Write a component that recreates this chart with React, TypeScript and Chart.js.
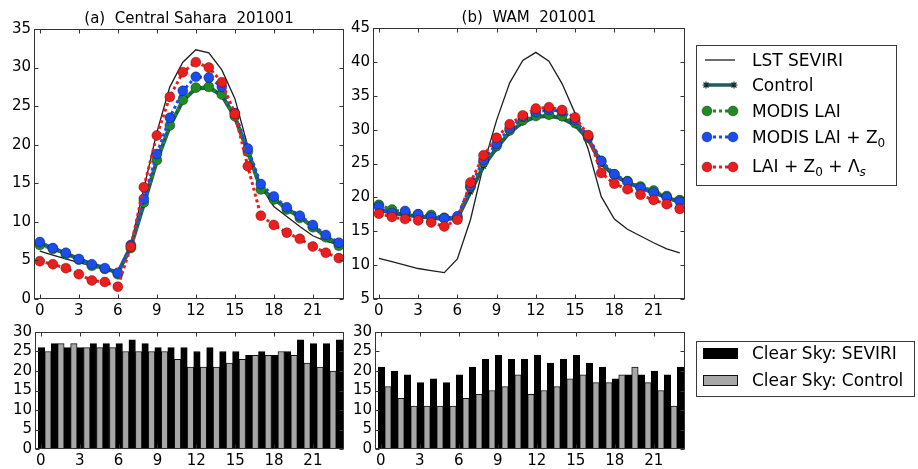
import React, { useEffect, useRef } from 'react';
import { Chart, registerables } from 'chart.js';

Chart.register(...registerables);

// ---------------- data ----------------
const HOURS = [0, 1, 2, 3, 4, 5, 6, 7, 8, 9, 10, 11, 12, 13, 14, 15, 16, 17, 18, 19, 20, 21, 22, 23];

const TITLE_A = '(a)  Central Sahara  201001';
const TITLE_B = '(b)  WAM  201001';

// Panel (a) Central Sahara, LST (deg C)
const CS_LST = [6.2, 5.7, 5.2, 4.7, 4.3, 3.9, 3.4, 7.0, 14.3, 21.6, 27.5, 30.7, 32.3, 31.9, 29.7, 26.0, 19.8, 14.6, 12.0, 10.7, 9.4, 8.2, 7.5, 7.0];
const CS_CONTROL = [7.2, 6.6, 5.9, 5.2, 4.5, 4.0, 3.4, 6.8, 12.3, 17.9, 22.4, 25.7, 27.3, 27.4, 26.4, 23.6, 19.1, 14.3, 13.0, 11.7, 10.6, 9.4, 8.1, 7.0];
const CS_MODIS = [7.0, 6.5, 5.8, 5.1, 4.3, 3.9, 3.2, 6.6, 12.5, 18.0, 22.5, 25.8, 27.4, 27.5, 26.5, 23.7, 19.1, 14.2, 12.9, 11.6, 10.5, 9.3, 8.0, 6.9];
const CS_MODIS_Z0 = [7.4, 6.6, 6.0, 5.2, 4.5, 4.0, 3.4, 7.0, 13.0, 18.8, 23.5, 27.0, 28.8, 28.7, 27.5, 24.1, 19.5, 14.9, 13.3, 11.9, 10.8, 9.6, 8.3, 7.3];
const CS_LAI_Z0_LS = [4.9, 4.5, 4.0, 3.2, 2.4, 2.2, 1.6, 6.8, 14.5, 21.2, 26.2, 29.4, 30.7, 30.0, 28.1, 24.0, 17.2, 10.8, 9.6, 8.6, 7.8, 6.8, 6.0, 5.3];

// Panel (b) WAM
const WAM_LST = [11.0, 10.5, 10.0, 9.5, 9.2, 8.9, 10.9, 16.7, 24.8, 31.4, 36.9, 40.2, 41.4, 40.1, 36.8, 32.4, 27.1, 20.1, 16.8, 15.3, 14.3, 13.3, 12.4, 11.8];
const WAM_CONTROL = [18.2, 17.7, 17.4, 17.2, 17.0, 16.8, 16.9, 20.8, 24.6, 27.3, 29.6, 31.1, 31.9, 32.0, 31.7, 30.7, 28.6, 25.0, 23.2, 22.2, 21.4, 20.7, 20.0, 19.3];
const WAM_MODIS = [18.9, 18.2, 17.8, 17.5, 17.4, 17.0, 17.0, 21.5, 25.2, 27.6, 29.9, 31.4, 32.0, 32.2, 32.0, 31.0, 28.8, 25.3, 23.4, 22.4, 21.6, 21.0, 20.2, 19.6];
const WAM_MODIS_Z0 = [18.6, 17.7, 18.0, 17.5, 17.1, 16.9, 17.2, 21.7, 25.5, 27.9, 30.2, 31.9, 32.6, 32.9, 32.7, 31.4, 29.0, 25.4, 23.4, 22.3, 21.4, 20.7, 20.0, 19.4];
const WAM_LAI_Z0_LS = [17.6, 17.1, 16.8, 16.6, 16.3, 15.7, 16.7, 22.2, 26.2, 28.8, 30.8, 32.1, 33.1, 33.3, 32.9, 31.8, 29.2, 23.6, 22.0, 21.2, 20.4, 19.6, 19.0, 18.3];

// Clear-sky counts (days)
const CS_CLEAR_SEVIRI = [26, 27, 26, 26, 27, 27, 27, 28, 27, 26, 26, 26, 25, 26, 25, 25, 24, 25, 24, 25, 28, 27, 27, 28];
const CS_CLEAR_CONTROL = [25, 27, 27, 26, 26, 26, 25, 25, 25, 25, 23, 21, 21, 21, 22, 23, 24, 24, 25, 24, 22, 21, 20, 21];
const WAM_CLEAR_SEVIRI = [21, 20, 19, 17, 18, 17, 19, 21, 23, 24, 23, 23, 24, 22, 23, 24, 22, 21, 18, 19, 19, 20, 19, 21];
const WAM_CLEAR_CONTROL = [16, 13, 11, 11, 11, 11, 13, 14, 15, 16, 19, 14, 15, 16, 18, 19, 17, 17, 19, 21, 17, 15, 11, 13];

// ---------------- style ----------------
const FONT = '"DejaVu Sans", sans-serif';
const TICK_SIZE = 15;
const LEGEND_SIZE = 17;
const X_MIN = -0.45;
const X_MAX = 23.4;
const BAR_SHIFT = 0.3;

const C_LST = '#1e1e1e';
const C_CTRL = '#215a5a';
const C_CTRL_MK = '#143232';
const C_GREEN = '#1f8c22';
const C_BLUE = '#1b4cf0';
const C_RED = '#ee1d1d';
const C_GRAY = '#a7a7a7';
const C_FRAME = '#333333';

const pts = (vals: number[], shift = 0) => vals.map((v, i) => ({ x: HOURS[i] + shift, y: v }));

// ---------------- plugins ----------------
const framePlugin = {
  id: 'frameTicks',
  afterDatasetsDraw(chart: any) {
    const { ctx, chartArea: a, scales } = chart;
    const xs = scales.x;
    const ys = scales.y;
    ctx.save();
    ctx.strokeStyle = C_FRAME;
    ctx.lineWidth = 1;
    const L = Math.round(a.left) + 0.5;
    const R = Math.round(a.right) - 0.5;
    const T = Math.round(a.top) + 0.5;
    const B = Math.round(a.bottom) - 0.5;
    ctx.beginPath();
    xs.ticks.forEach((t: any) => {
      const px = Math.round(xs.getPixelForValue(t.value)) + 0.5;
      ctx.moveTo(px, B);
      ctx.lineTo(px, B - 4);
      ctx.moveTo(px, T);
      ctx.lineTo(px, T + 4);
    });
    ys.ticks.forEach((t: any) => {
      const py = Math.round(ys.getPixelForValue(t.value)) + 0.5;
      ctx.moveTo(L, py);
      ctx.lineTo(L + 4, py);
      ctx.moveTo(R, py);
      ctx.lineTo(R - 4, py);
    });
    ctx.stroke();
    ctx.strokeRect(L, T, R - L, B - T);
    ctx.restore();
  },
};

const titlePlugin = {
  id: 'panelTitle',
  afterDraw(chart: any, _args: any, opts: any) {
    if (!opts || !opts.text) return;
    const { ctx, chartArea: a } = chart;
    ctx.save();
    ctx.font = `15px ${FONT}`;
    ctx.fillStyle = '#000';
    ctx.textAlign = 'center';
    ctx.textBaseline = 'alphabetic';
    ctx.fillText(opts.text, (a.left + a.right) / 2, a.top - 6);
    ctx.restore();
  },
};

type Part = { t: string; sub?: boolean; italic?: boolean };

function drawRich(ctx: CanvasRenderingContext2D, parts: Part[], x: number, y: number) {
  let cx = x;
  for (const p of parts) {
    ctx.font = `${p.italic ? 'italic ' : ''}${p.sub ? 12 : LEGEND_SIZE}px ${FONT}`;
    ctx.fillText(p.t, cx, y + (p.sub ? 4 : 0));
    cx += ctx.measureText(p.t).width;
  }
}

function drawStar(ctx: CanvasRenderingContext2D, x: number, y: number, r: number) {
  ctx.beginPath();
  for (let k = 0; k < 4; k++) {
    const ang = (k * Math.PI) / 4;
    ctx.moveTo(x - r * Math.cos(ang), y - r * Math.sin(ang));
    ctx.lineTo(x + r * Math.cos(ang), y + r * Math.sin(ang));
  }
  ctx.stroke();
}

const lineLegendPlugin = {
  id: 'lineLegend',
  afterDraw(chart: any, _args: any, opts: any) {
    if (!opts || !opts.show) return;
    const ctx: CanvasRenderingContext2D = chart.ctx;
    ctx.save();
    ctx.translate(-opts.ox, -opts.oy);
    ctx.fillStyle = '#fff';
    ctx.fillRect(696, 45, 201, 141);
    ctx.strokeStyle = '#3a3a3a';
    ctx.lineWidth = 1;
    ctx.strokeRect(696.5, 45.5, 200, 140);
    const x0 = 707;
    const x1 = 733;
    const tx = 752;
    // LST
    ctx.strokeStyle = C_LST;
    ctx.lineWidth = 1.3;
    ctx.beginPath();
    ctx.moveTo(x0 - 2, 60);
    ctx.lineTo(x1 + 2, 60);
    ctx.stroke();
    // Control
    ctx.strokeStyle = C_CTRL;
    ctx.lineWidth = 3.5;
    ctx.beginPath();
    ctx.moveTo(x0 - 2, 85);
    ctx.lineTo(x1 + 2, 85);
    ctx.stroke();
    ctx.strokeStyle = C_CTRL_MK;
    ctx.lineWidth = 1.2;
    drawStar(ctx, x0 - 1, 85, 3.5);
    drawStar(ctx, x1 + 1, 85, 3.5);
    // dotted series
    const dotted: [number, string][] = [
      [111, C_GREEN],
      [137, C_BLUE],
      [167, C_RED],
    ];
    dotted.forEach(([y, c]) => {
      ctx.strokeStyle = c;
      ctx.lineWidth = 3;
      ctx.setLineDash([3, 3]);
      ctx.beginPath();
      ctx.moveTo(x0, y);
      ctx.lineTo(x1, y);
      ctx.stroke();
      ctx.setLineDash([]);
      ctx.fillStyle = c;
      ctx.strokeStyle = 'rgba(0,0,0,0.4)';
      ctx.lineWidth = 0.8;
      [x0, x1].forEach((cx) => {
        ctx.beginPath();
        ctx.arc(cx, y, 5, 0, Math.PI * 2);
        ctx.fill();
        ctx.stroke();
      });
    });
    ctx.fillStyle = '#000';
    ctx.textAlign = 'left';
    ctx.textBaseline = 'alphabetic';
    drawRich(ctx, [{ t: 'LST SEVIRI' }], tx, 66);
    drawRich(ctx, [{ t: 'Control' }], tx, 91);
    drawRich(ctx, [{ t: 'MODIS LAI' }], tx, 117);
    drawRich(ctx, [{ t: 'MODIS LAI + Z' }, { t: '0', sub: true }], tx, 143);
    drawRich(ctx, [{ t: 'LAI + Z' }, { t: '0', sub: true }, { t: ' + Λ' }, { t: 's', sub: true, italic: true }], tx, 172);
    ctx.restore();
  },
};

const barLegendPlugin = {
  id: 'barLegend',
  afterDraw(chart: any, _args: any, opts: any) {
    if (!opts || !opts.show) return;
    const ctx: CanvasRenderingContext2D = chart.ctx;
    ctx.save();
    ctx.translate(-opts.ox, -opts.oy);
    ctx.fillStyle = '#fff';
    ctx.fillRect(696, 341, 219, 56);
    ctx.strokeStyle = '#3a3a3a';
    ctx.lineWidth = 1;
    ctx.strokeRect(696.5, 341.5, 218, 55);
    ctx.fillStyle = '#000';
    ctx.fillRect(703, 348, 35, 11);
    ctx.fillStyle = C_GRAY;
    ctx.fillRect(703, 375, 35, 11);
    ctx.strokeStyle = '#111';
    ctx.strokeRect(703.5, 375.5, 34, 10);
    ctx.fillStyle = '#000';
    ctx.textAlign = 'left';
    ctx.textBaseline = 'alphabetic';
    drawRich(ctx, [{ t: 'Clear Sky: SEVIRI' }], 752, 359);
    drawRich(ctx, [{ t: 'Clear Sky: Control' }], 752, 386);
    ctx.restore();
  },
};

// ---------------- config builders ----------------
function xScale(height: number) {
  return {
    type: 'linear',
    min: X_MIN,
    max: X_MAX,
    offset: false,
    grid: { display: false, drawTicks: false, tickLength: 0 },
    border: { display: false },
    ticks: {
      stepSize: 3,
      includeBounds: false,
      autoSkip: false,
      maxRotation: 0,
      padding: 3,
      color: '#000',
      font: { family: FONT, size: TICK_SIZE },
    },
    afterFit(s: any) {
      s.height = height;
    },
  };
}

function yScale(min: number, max: number, width: number) {
  return {
    type: 'linear',
    min,
    max,
    grid: { display: false, drawTicks: false, tickLength: 0 },
    border: { display: false },
    ticks: {
      stepSize: 5,
      autoSkip: false,
      padding: 3,
      color: '#000',
      font: { family: FONT, size: TICK_SIZE },
    },
    afterFit(s: any) {
      s.width = width;
    },
  };
}

function lineConfig(
  title: string,
  yMin: number,
  yMax: number,
  yWidth: number,
  padTop: number,
  padRight: number,
  lst: number[],
  control: number[],
  modis: number[],
  modisZ0: number[],
  laiZ0Ls: number[],
  legend: any
): any {
  const dotted = (label: string, data: number[], color: string, order: number) => ({
    label,
    data: pts(data),
    borderColor: color,
    backgroundColor: color,
    borderWidth: 3,
    borderDash: [3, 3],
    pointRadius: 5,
    pointBackgroundColor: color,
    pointBorderColor: 'rgba(0,0,0,0.4)',
    pointBorderWidth: 0.8,
    tension: 0,
    fill: false,
    order,
  });
  return {
    type: 'line',
    data: {
      datasets: [
        {
          label: 'LST SEVIRI',
          data: pts(lst),
          borderColor: C_LST,
          borderWidth: 1.3,
          pointRadius: 0,
          tension: 0,
          fill: false,
          order: 5,
        },
        {
          label: 'Control',
          data: pts(control),
          borderColor: C_CTRL,
          backgroundColor: C_CTRL,
          borderWidth: 4,
          pointStyle: 'star',
          pointRadius: 3.5,
          pointBorderColor: C_CTRL_MK,
          pointBorderWidth: 1.2,
          tension: 0,
          fill: false,
          order: 4,
        },
        dotted('MODIS LAI', modis, C_GREEN, 3),
        dotted('MODIS LAI + Z0', modisZ0, C_BLUE, 2),
        dotted('LAI + Z0 + Λs', laiZ0Ls, C_RED, 1),
      ],
    },
    options: {
      responsive: false,
      animation: false,
      events: [],
      layout: { padding: { top: padTop, right: padRight, left: 0, bottom: 0 } },
      scales: { x: xScale(21), y: yScale(yMin, yMax, yWidth) },
      plugins: {
        legend: { display: false },
        title: { display: false },
        tooltip: { enabled: false },
        panelTitle: { text: title },
        lineLegend: legend,
      },
    },
    plugins: [framePlugin, titlePlugin, lineLegendPlugin],
  };
}

function barConfig(yWidth: number, padRight: number, seviri: number[], control: number[], legend: any): any {
  return {
    type: 'bar',
    data: {
      datasets: [
        {
          label: 'Clear Sky: SEVIRI',
          data: pts(seviri, BAR_SHIFT),
          backgroundColor: '#000',
          borderColor: '#000',
          borderWidth: 1,
          barPercentage: 1,
          categoryPercentage: 1,
        },
        {
          label: 'Clear Sky: Control',
          data: pts(control, BAR_SHIFT),
          backgroundColor: C_GRAY,
          borderColor: '#111',
          borderWidth: 1,
          barPercentage: 1,
          categoryPercentage: 1,
        },
      ],
    },
    options: {
      responsive: false,
      animation: false,
      events: [],
      layout: { padding: { top: 8, right: padRight, left: 0, bottom: 0 } },
      scales: { x: xScale(20), y: yScale(0, 30, yWidth) },
      plugins: {
        legend: { display: false },
        title: { display: false },
        tooltip: { enabled: false },
        barLegend: legend,
      },
    },
    plugins: [framePlugin, barLegendPlugin],
  };
}

// ---------------- component ----------------
export default function App() {
  const aRef = useRef<HTMLCanvasElement>(null);
  const bRef = useRef<HTMLCanvasElement>(null);
  const cRef = useRef<HTMLCanvasElement>(null);
  const dRef = useRef<HTMLCanvasElement>(null);

  useEffect(() => {
    const charts: Chart[] = [];
    if (aRef.current)
      charts.push(
        new Chart(
          aRef.current,
          lineConfig(TITLE_A, 0, 35, 34, 29, 6, CS_LST, CS_CONTROL, CS_MODIS, CS_MODIS_Z0, CS_LAI_Z0_LS, { show: false })
        )
      );
    if (bRef.current)
      charts.push(
        new Chart(
          bRef.current,
          lineConfig(TITLE_B, 5, 45, 33, 28, 233, WAM_LST, WAM_CONTROL, WAM_MODIS, WAM_MODIS_Z0, WAM_LAI_Z0_LS, {
            show: true,
            ox: 340,
            oy: 0,
          })
        )
      );
    if (cRef.current)
      charts.push(new Chart(cRef.current, barConfig(35, 6, CS_CLEAR_SEVIRI, CS_CLEAR_CONTROL, { show: false })));
    if (dRef.current)
      charts.push(
        new Chart(dRef.current, barConfig(35, 233, WAM_CLEAR_SEVIRI, WAM_CLEAR_CONTROL, { show: true, ox: 340, oy: 320 }))
      );
    return () => charts.forEach((c) => c.destroy());
  }, []);

  return (
    <div
      style={{
        position: 'absolute',
        left: 0,
        top: 0,
        width: 918,
        height: 469,
        background: '#fff',
        overflow: 'hidden',
      }}
    >
      <canvas ref={aRef} width={350} height={320} style={{ position: 'absolute', left: 0, top: 0 }} />
      <canvas ref={bRef} width={578} height={320} style={{ position: 'absolute', left: 340, top: 0 }} />
      <canvas ref={cRef} width={350} height={149} style={{ position: 'absolute', left: 0, top: 320 }} />
      <canvas ref={dRef} width={578} height={149} style={{ position: 'absolute', left: 340, top: 320 }} />
    </div>
  );
}
